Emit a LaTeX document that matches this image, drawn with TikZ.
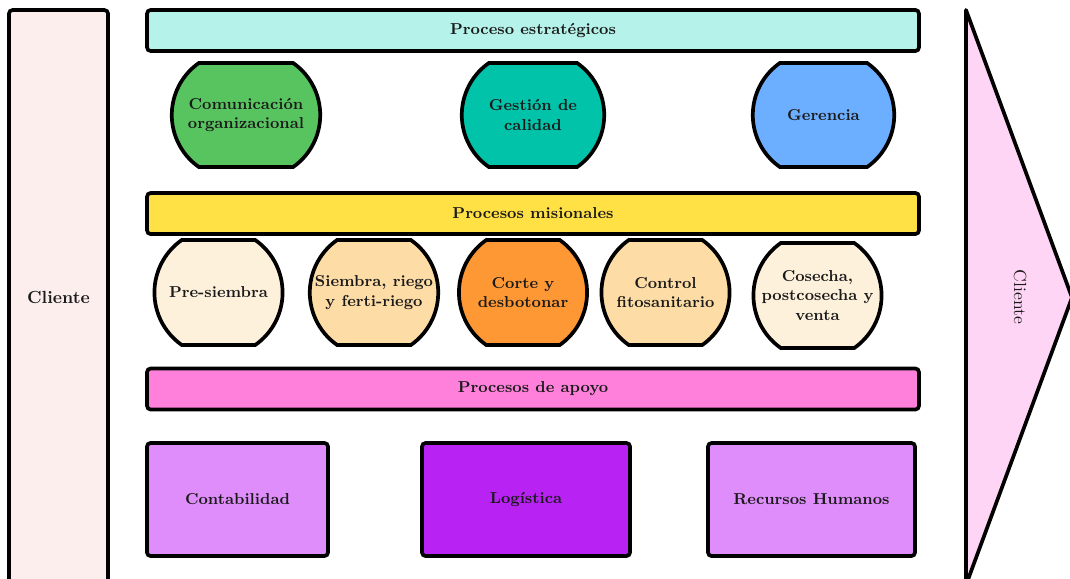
\documentclass[tikz,border=0pt]{standalone}
\usepackage{tikz}
\usetikzlibrary{shapes.misc}

\definecolor{clientefill}{HTML}{FDEEEE}
\definecolor{estratfill}{HTML}{B4F2EA}
\definecolor{comfill}{HTML}{58C460}
\definecolor{calfill}{HTML}{00C3A9}
\definecolor{gerfill}{HTML}{6CAEFF}
\definecolor{misfill}{HTML}{FFE045}
\definecolor{creamfill}{HTML}{FEF1DC}
\definecolor{peachfill}{HTML}{FDDCA5}
\definecolor{orangefill}{HTML}{FE9835}
\definecolor{apoyofill}{HTML}{FF80DB}
\definecolor{lilafill}{HTML}{DF8DFB}
\definecolor{purplefill}{HTML}{B823F3}
\definecolor{arrowfill}{HTML}{FFD5F5}
\definecolor{inkdark}{HTML}{1A1A1A}

\begin{document}
\begin{tikzpicture}[x=0.02cm, y=-0.02cm,
    every node/.style={font=\fontsize{9}{11}\selectfont\bfseries, text=inkdark, align=center},
    bar/.style={draw=black, line width=2.1pt, rounded corners=2pt, minimum width=15.44cm, minimum height=0.82cm},
    proc/.style={draw=black, line width=2.1pt, rounded rectangle, rounded rectangle arc length=110, minimum height=2.08cm, inner sep=1pt},
    apoyo/.style={draw=black, line width=2.1pt, rounded corners=2pt, minimum height=2.26cm}]
                % Page frame
                \useasboundingbox (0,0) rectangle (1070,578);
                
                % Client side columns
                \node[draw=black, line width=2.1pt, rounded corners=2pt, fill=clientefill,
                      minimum width=1.98cm, minimum height=11.5cm] (clienteIn) at (58.5,297.5) {};
                \node (clienteInTxt) at (58.5,297) {\fontsize{10}{12}\selectfont Cliente};
                \draw[line width=2.1pt, line join=round, fill=arrowfill] (966,10) -- (1072,297.5) -- (966,585) -- cycle;
                \node[rotate=-90, font=\fontsize{10}{12}\selectfont] (clienteOut) at (1020,297) {Cliente};
                
                % Strategic processes
                \node[bar, fill=estratfill] (estrat) at (533,30.5) {Proceso estrat\'egicos};
                \node[proc, fill=comfill, minimum width=3.04cm] (comunic) at (246,115) {Comunicaci\'on\\organizacional};
                \node[proc, fill=calfill, minimum width=2.92cm] (calidad) at (533,115) {Gesti\'on de\\calidad};
                \node[proc, fill=gerfill, minimum width=2.9cm] (gerencia) at (823.5,115) {Gerencia};
                
                % Mission processes
                \node[bar, fill=misfill] (misional) at (533,213.5) {Procesos misionales};
                \node[proc, fill=creamfill, minimum width=2.58cm, minimum height=2.1cm] (presiembra) at (218.5,292.5) {Pre-siembra};
                \node[proc, fill=peachfill, minimum width=2.64cm, minimum height=2.1cm] (siembra) at (374,292.5) {Siembra, riego\\y ferti-riego};
                \node[proc, fill=orangefill, minimum width=2.44cm, minimum height=2.1cm] (corte) at (523,292.5) {Corte y\\desbotonar};
                \node[proc, fill=peachfill, minimum width=2.62cm, minimum height=2.1cm] (control) at (665.5,292.5) {Control\\fitosanitario};
                \node[proc, fill=creamfill, minimum width=2.5cm, minimum height=2.1cm] (cosecha) at (817.5,295.5) {Cosecha,\\postcosecha y\\venta};
                
                % Support processes
                \node[bar, fill=apoyofill] (apoyobar) at (533,389) {Procesos de apoyo};
                \node[apoyo, fill=lilafill, minimum width=3.62cm] (contab) at (237.5,499.5) {Contabilidad};
                \node[apoyo, fill=purplefill, minimum width=4.16cm] (logist) at (526,499.5) {Log\'istica};
                \node[apoyo, fill=lilafill, minimum width=4.14cm] (rrhh) at (811.5,499.5) {Recursos Humanos};
\end{tikzpicture}
\end{document}
